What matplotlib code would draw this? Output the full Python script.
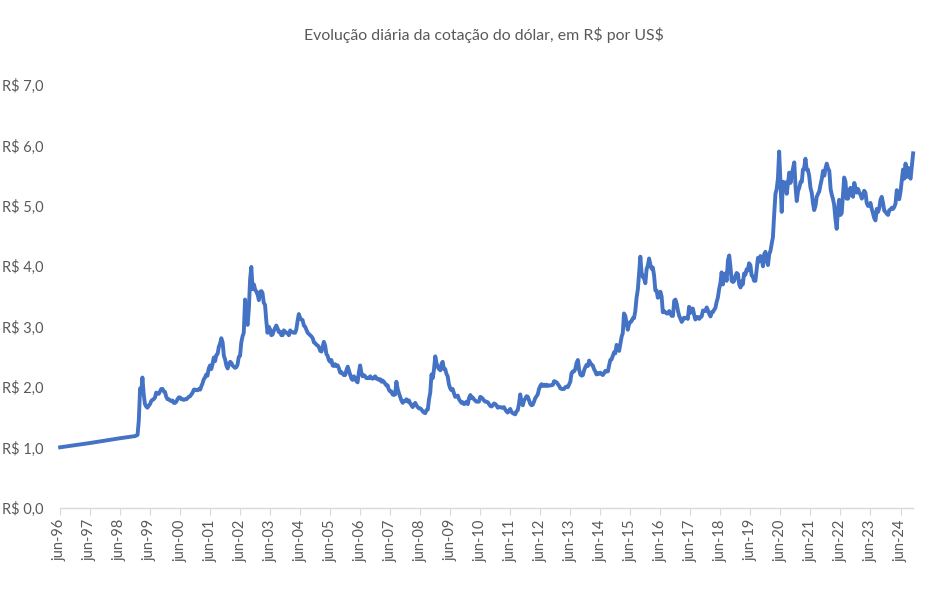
import datetime as dt
import matplotlib
matplotlib.use("Agg")
import matplotlib.pyplot as plt

# cotacao R$/US$ - leitura do grafico, dias 1 e 16 de cada mes
early_dates = ["1996-06-03", "1996-12-02", "1997-06-02", "1997-12-01", "1998-06-01", "1998-12-01"]
early_rates = [1.005, 1.04, 1.076, 1.116, 1.155, 1.19]

r1999 = [1.21, 1.45, 1.98, 1.93, 2.16, 1.89, 1.72, 1.68, 1.66, 1.69, 1.72, 1.77,
         1.79, 1.80, 1.83, 1.91, 1.90, 1.89, 1.93, 1.97, 1.97, 1.93, 1.92, 1.84]
r2000 = [1.80, 1.80, 1.78, 1.77, 1.78, 1.74, 1.74, 1.76, 1.80, 1.83, 1.83, 1.80,
         1.80, 1.79, 1.80, 1.80, 1.82, 1.84, 1.85, 1.88, 1.91, 1.96, 1.96, 1.95]
r2001 = [1.95, 1.97, 1.96, 2.02, 2.06, 2.13, 2.16, 2.21, 2.19, 2.31, 2.36, 2.30,
         2.38, 2.49, 2.43, 2.53, 2.55, 2.67, 2.72, 2.81, 2.74, 2.52, 2.46, 2.36]
r2002 = [2.31, 2.38, 2.42, 2.40, 2.36, 2.34, 2.32, 2.33, 2.37, 2.50, 2.52, 2.74,
         2.84, 2.90, 3.45, 3.10, 3.03, 3.30, 3.78, 3.99, 3.62, 3.70, 3.62, 3.58]
r2003 = [3.53, 3.44, 3.58, 3.59, 3.56, 3.40, 3.36, 3.10, 2.90, 3.00, 2.96, 2.86,
         2.87, 2.93, 2.98, 3.02, 2.97, 2.91, 2.92, 2.86, 2.86, 2.94, 2.92, 2.90]
r2004 = [2.89, 2.86, 2.94, 2.91, 2.91, 2.90, 2.90, 2.96, 3.10, 3.21, 3.14, 3.12,
         3.11, 3.02, 3.00, 2.95, 2.90, 2.88, 2.86, 2.84, 2.81, 2.74, 2.73, 2.70]
r2005 = [2.69, 2.66, 2.60, 2.59, 2.66, 2.75, 2.69, 2.55, 2.52, 2.45, 2.42, 2.45,
         2.36, 2.35, 2.38, 2.35, 2.36, 2.31, 2.24, 2.25, 2.22, 2.20, 2.20, 2.28]
r2006 = [2.34, 2.27, 2.20, 2.14, 2.12, 2.18, 2.15, 2.10, 2.08, 2.24, 2.36, 2.24,
         2.18, 2.20, 2.18, 2.15, 2.15, 2.15, 2.18, 2.15, 2.14, 2.16, 2.18, 2.14]
r2007 = [2.14, 2.12, 2.13, 2.09, 2.11, 2.09, 2.06, 2.03, 2.03, 1.96, 1.93, 1.93,
         1.88, 1.87, 1.88, 2.09, 1.97, 1.90, 1.84, 1.78, 1.74, 1.77, 1.77, 1.80]
r2008 = [1.76, 1.78, 1.73, 1.70, 1.67, 1.71, 1.74, 1.70, 1.67, 1.65, 1.65, 1.63,
         1.60, 1.58, 1.57, 1.62, 1.63, 1.80, 1.91, 2.21, 2.15, 2.30, 2.51, 2.40]
r2009 = [2.33, 2.30, 2.28, 2.39, 2.42, 2.30, 2.30, 2.22, 2.18, 2.05, 1.98, 1.95,
         1.97, 1.90, 1.84, 1.85, 1.86, 1.80, 1.77, 1.74, 1.75, 1.72, 1.73, 1.76]
r2010 = [1.72, 1.82, 1.87, 1.82, 1.83, 1.80, 1.78, 1.76, 1.76, 1.76, 1.84, 1.83,
         1.81, 1.78, 1.76, 1.76, 1.75, 1.72, 1.69, 1.68, 1.70, 1.73, 1.72, 1.70]
r2011 = [1.66, 1.67, 1.67, 1.66, 1.66, 1.67, 1.63, 1.60, 1.58, 1.61, 1.64, 1.59,
         1.57, 1.56, 1.55, 1.60, 1.62, 1.73, 1.88, 1.75, 1.70, 1.78, 1.81, 1.85]
r2012 = [1.84, 1.78, 1.72, 1.70, 1.71, 1.76, 1.82, 1.85, 1.88, 1.97, 2.02, 2.05,
         2.02, 2.04, 2.02, 2.04, 2.02, 2.03, 2.03, 2.03, 2.04, 2.10, 2.09, 2.08]
r2013 = [2.05, 2.02, 1.98, 1.97, 1.97, 1.97, 2.00, 2.01, 2.00, 2.04, 2.09, 2.23,
         2.26, 2.26, 2.30, 2.40, 2.45, 2.29, 2.21, 2.19, 2.20, 2.28, 2.33, 2.37]
r2014 = [2.35, 2.44, 2.40, 2.37, 2.36, 2.30, 2.26, 2.21, 2.23, 2.22, 2.24, 2.22,
         2.20, 2.23, 2.27, 2.26, 2.26, 2.36, 2.45, 2.46, 2.52, 2.58, 2.56, 2.70]
r2015 = [2.66, 2.60, 2.72, 2.84, 2.89, 3.22, 3.18, 3.06, 2.95, 3.04, 3.08, 3.09,
         3.14, 3.14, 3.26, 3.48, 3.62, 3.88, 4.16, 3.90, 3.82, 3.80, 3.72, 3.95]
r2016 = [4.02, 4.13, 4.02, 3.96, 3.98, 3.85, 3.60, 3.60, 3.48, 3.50, 3.58, 3.50,
         3.24, 3.26, 3.24, 3.22, 3.22, 3.26, 3.22, 3.18, 3.18, 3.43, 3.45, 3.38]
r2017 = [3.26, 3.18, 3.13, 3.08, 3.11, 3.15, 3.14, 3.15, 3.13, 3.33, 3.23, 3.30,
         3.30, 3.20, 3.12, 3.16, 3.16, 3.13, 3.16, 3.17, 3.27, 3.26, 3.26, 3.32]
r2018 = [3.27, 3.21, 3.17, 3.24, 3.24, 3.28, 3.31, 3.41, 3.48, 3.62, 3.72, 3.90,
         3.70, 3.84, 3.88, 3.76, 4.10, 4.18, 4.00, 3.76, 3.74, 3.76, 3.84, 3.89]
r2019 = [3.87, 3.70, 3.65, 3.75, 3.70, 3.88, 3.86, 3.95, 3.93, 4.05, 4.02, 3.85,
         3.83, 3.76, 3.76, 3.95, 4.14, 4.08, 4.17, 4.14, 4.00, 4.20, 4.24, 4.10]
r2020 = [4.02, 4.20, 4.26, 4.38, 4.48, 4.85, 5.20, 5.28, 5.45, 5.90, 5.40, 4.90,
         5.40, 5.32, 5.39, 5.20, 5.38, 5.55, 5.38, 5.52, 5.62, 5.72, 5.32, 5.08]
r2021 = [5.25, 5.30, 5.40, 5.40, 5.60, 5.62, 5.78, 5.60, 5.60, 5.50, 5.30, 5.22,
         5.05, 4.93, 5.00, 5.15, 5.20, 5.24, 5.35, 5.44, 5.58, 5.50, 5.62, 5.70]
r2022 = [5.62, 5.58, 5.28, 5.18, 5.12, 5.02, 4.78, 4.62, 4.93, 5.10, 4.85, 4.88,
         5.18, 5.47, 5.40, 5.12, 5.12, 5.25, 5.30, 5.18, 5.15, 5.38, 5.30, 5.22]
r2023 = [5.28, 5.22, 5.18, 5.12, 5.18, 5.25, 5.22, 5.05, 5.00, 5.00, 5.05, 4.95,
         4.88, 4.80, 4.76, 4.95, 4.90, 4.96, 5.10, 5.15, 5.05, 4.92, 4.90, 4.87]
r2024 = [4.85, 4.93, 4.94, 4.97, 4.95, 4.98, 5.04, 5.26, 5.18, 5.11, 5.24, 5.42,
         5.60, 5.45, 5.70, 5.48, 5.63, 5.50, 5.45, 5.65, 5.87]

yearly = [r1999, r2000, r2001, r2002, r2003, r2004, r2005, r2006, r2007, r2008,
          r2009, r2010, r2011, r2012, r2013, r2014, r2015, r2016, r2017, r2018,
          r2019, r2020, r2021, r2022, r2023, r2024]

tick_years = list(range(1996, 2025))

dates = [dt.datetime.strptime(d, "%Y-%m-%d") for d in early_dates]
rates = list(early_rates)
for k, vals in enumerate(yearly):
    year = 1999 + k
    for i, v in enumerate(vals):
        dates.append(dt.datetime(year, i // 2 + 1, 1 if i % 2 == 0 else 16))
        rates.append(v)

grey = "#595959"
plt.rcParams["font.family"] = ["Lato", "DejaVu Sans"]

fig = plt.figure(figsize=(9.49, 5.91), dpi=100)
ax = fig.add_axes([0.0632, 0.1404, 0.899, 0.7157])

ax.plot(dates, rates, color="#4472C4", linewidth=2.8, solid_joinstyle="round",
        clip_on=False)

ax.set_ylim(0, 7)
ax.set_yticks(range(0, 8))
ax.set_yticklabels([f"R$ {v},0" for v in range(0, 8)], color=grey, fontsize=10.5)
ax.tick_params(axis="y", length=0, pad=12)

ax.set_xlim(dt.datetime(1996, 6, 1), dt.datetime(2024, 11, 1))
ax.set_xticks([dt.datetime(y, 6, 1) for y in tick_years])
ax.set_xticklabels([f"jun-{y % 100:02d}" for y in tick_years], rotation=90,
                   color=grey, fontsize=10.5)
ax.tick_params(axis="x", length=5, color="#d9d9d9", pad=3)

for s in ["top", "right", "left"]:
    ax.spines[s].set_visible(False)
ax.spines["bottom"].set_color("#d9d9d9")
ax.spines["bottom"].set_linewidth(1)

fig.text(0.51, 0.941, "Evolução diária da cotação do dólar, em R\\$ por US\\$",
         ha="center", va="center", color=grey, fontsize=11.4)

fig.savefig("out.png", dpi=100)
